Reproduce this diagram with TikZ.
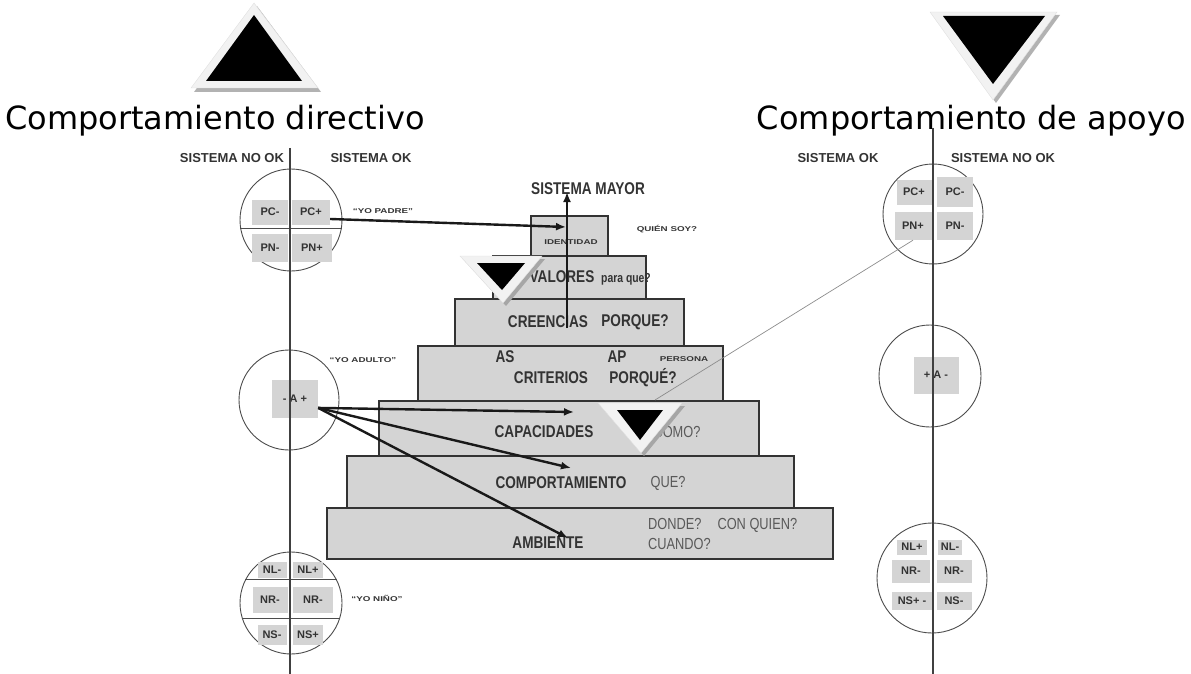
\documentclass[tikz,border=0pt]{standalone}
\usepackage{fontspec}
\setmainfont{Liberation Sans}
\newfontfamily\titulo{DejaVu Sans}
\newfontfamily\estrecha{Liberation Sans}[FakeStretch=0.8]
\newfontfamily\ancha{Liberation Sans}[FakeStretch=1.4]
\usetikzlibrary{arrows.meta}

\begin{document}
\begin{tikzpicture}[x=1pt, y=-1pt,
  nivel/.style={draw=black!80, line width=1.8pt, fill=black!17, inner sep=0pt, anchor=north west},
  celda/.style={fill=black!17, inner sep=0pt, font=\bfseries\fontsize{11}{11}\selectfont, text=black!80},
  aro/.style={draw=black!70, line width=0.9pt, circle, inner sep=0pt},
  eje/.style={draw=black!75, line width=1.4pt},
  etiq/.style={font=\estrecha\bfseries\fontsize{17}{17}\selectfont, text=black!80, inner sep=0pt},
  pregunta/.style={font=\estrecha\fontsize{16}{16}\selectfont, text=black!65, inner sep=0pt},
  mini/.style={font=\ancha\bfseries\fontsize{7}{7}\selectfont, text=black!80, inner sep=0pt},
  sistema/.style={font=\bfseries\fontsize{13}{13}\selectfont, text=black!80, inner sep=0pt},
  flecha/.style={draw=black!90, line width=2.4pt, -{Latex[length=10pt,width=8pt]}},
  titular/.style={font=\titulo\fontsize{32}{32}\selectfont, inner sep=0pt}
]
\useasboundingbox (0,0) rectangle (1191,674);

% titulos y triangulos de arriba
\node[titular, anchor=base west] (tdirectivo) at (5,130) {Comportamiento directivo};
\node[titular, anchor=base east] (tapoyo) at (1186,130) {Comportamiento de apoyo};
\fill[black!30] (257,6) -- (321,92) -- (194,92) -- cycle;
\filldraw[fill=black!5, draw=black!12] (254,3) -- (318,88) -- (191,88) -- cycle;
\fill[black] (254,15) -- (302,81) -- (206,81) -- cycle;
\fill[black!30] (933,15) -- (1060,15) -- (996,103) -- cycle;
\filldraw[fill=black!5, draw=black!12] (930,12) -- (1057,12) -- (993,100) -- cycle;
\fill[black] (943,16) -- (1045,16) -- (993,84) -- cycle;

% lado izquierdo
\node[sistema] (noizq) at (232,158) {SISTEMA NO OK};
\node[sistema] (okizq) at (371,158) {SISTEMA OK};
\node[aro, minimum size=102] (padre) at (291,220) {};
\node[aro, minimum size=100] (adulto) at (289,400) {};
\node[aro, minimum size=102] (nino) at (291,603) {};
\node[celda, minimum width=36, minimum height=25] (pcmenos) at (270,212) {PC-};
\node[celda, minimum width=38, minimum height=25] (pcmas) at (311,212) {PC+};
\node[celda, minimum width=36, minimum height=28] (pnmenos) at (270,248) {PN-};
\node[celda, minimum width=40, minimum height=28] (pnmas) at (312,248) {PN+};
\draw[black!70, line width=0.9pt] (padre.190) -- (padre.350);
\node[celda, minimum width=46, minimum height=38] (adultobox) at (295,399) {- A +};
\node[celda, minimum width=29, minimum height=16] (nlmenos) at (272,570) {NL-};
\node[celda, minimum width=30, minimum height=16] (nlmas) at (308,570) {NL+};
\node[celda, minimum width=35, minimum height=26] (nrmenos) at (270,600) {NR-};
\node[celda, minimum width=40, minimum height=26] (nrmenosb) at (313,600) {NR-};
\node[celda, minimum width=29, minimum height=20] (nsmenos) at (272,635) {NS-};
\node[celda, minimum width=30, minimum height=20] (nsmas) at (308,635) {NS+};
\draw[black!70, line width=0.9pt] (nino.153) -- (nino.27);
\draw[black!70, line width=0.9pt] (nino.197) -- (nino.343);
\coordinate (ejeizqA) at (290,148);
\coordinate (ejeizqB) at (290,674);
\draw[eje] (ejeizqA) -- (ejeizqB);
\node[mini] (yopadre) at (383,211) {“YO PADRE”};
\node[mini] (yoadulto) at (363,360) {“YO ADULTO”};
\node[mini] (yonino) at (377,598) {“YO NIÑO”};

% lado derecho
\node[sistema] (okder) at (838,158) {SISTEMA OK};
\node[sistema] (noder) at (1003,158) {SISTEMA NO OK};
\node[aro, minimum size=100] (padreder) at (933,214) {};
\node[aro, minimum size=102] (adultoder) at (930,376) {};
\node[aro, minimum size=110] (ninoder) at (932,578) {};
\node[celda, minimum width=35, minimum height=25] (pcmasD) at (914,192) {PC+};
\node[celda, minimum width=36, minimum height=30] (pcmenosD) at (955,192) {PC-};
\node[celda, minimum width=37, minimum height=28] (pnmasD) at (913,226) {PN+};
\node[celda, minimum width=36, minimum height=28] (pnmenosD) at (955,226) {PN-};
\node[celda, minimum width=45, minimum height=37] (adultoboxD) at (936,375) {+ A -};
\node[celda, minimum width=30, minimum height=15] (nlmasD) at (912,547) {NL+};
\node[celda, minimum width=24, minimum height=15] (nlmenosD) at (950,547) {NL-};
\node[celda, minimum width=38, minimum height=23] (nrmenosD) at (911,571) {NR-};
\node[celda, minimum width=35, minimum height=23] (nrmenosDb) at (954,571) {NR-};
\node[celda, minimum width=40, minimum height=18] (nsmasD) at (912,601) {NS+ -};
\node[celda, minimum width=35, minimum height=18] (nsmenosD) at (954,601) {NS-};
\coordinate (ejederA) at (933,128);
\coordinate (ejederB) at (933,674);
\draw[eje] (ejederA) -- (ejederB);

% piramide
\node[nivel, minimum width=506, minimum height=51] (ambiente) at (326,507) {};
\node[nivel, minimum width=447, minimum height=52] (comportamiento) at (346,455) {};
\node[nivel, minimum width=380, minimum height=55] (capacidades) at (378,400) {};
\node[nivel, minimum width=305, minimum height=55] (criterios) at (417,345) {};
\node[nivel, minimum width=229, minimum height=47] (creencias) at (454,298) {};
\node[nivel, minimum width=153, minimum height=43] (valores) at (492,255) {};
\node[nivel, minimum width=77, minimum height=40] (identidad) at (530,215) {};

\node[etiq] (tmayor) at (588,189) {SISTEMA MAYOR};
\node[mini] (tidentidad) at (571,242) {IDENTIDAD};
\node[mini] (tquien) at (667,229) {QUIÉN SOY?};
\node[etiq] (tvalores) at (562,277) {VALORES};
\node[etiq, font=\estrecha\bfseries\fontsize{13}{13}\selectfont] (tpara) at (626,279) {para que?};
\node[etiq] (tcreencias) at (548,322) {CREENCIAS};
\node[etiq] (tporque) at (635,322) {PORQUE?};
\node[etiq] (tas) at (505,357) {AS};
\node[etiq] (tap) at (617,357) {AP};
\node[mini] (tpersona) at (684,359) {PERSONA};
\node[etiq] (tcriterios) at (551,378) {CRITERIOS};
\node[etiq] (tporqueb) at (643,378) {PORQUÉ?};
\node[etiq] (tcapacidades) at (544,432) {CAPACIDADES};
\node[pregunta] (tcomo) at (677,432) {COMO?};
\node[etiq] (tcomportamiento) at (561,483) {COMPORTAMIENTO};
\node[pregunta] (tque) at (668,483) {QUE?};
\node[etiq] (tambiente) at (548,543) {AMBIENTE};
\node[pregunta, anchor=west] (tdonde) at (648,525) {DONDE?\quad CON QUIEN?};
\node[pregunta, anchor=west] (tcuando) at (648,544) {CUANDO?};

% flechas
\coordinate (iniciovert) at (567,328);
\coordinate (finmayor) at (567,192);
\coordinate (finiden) at (566,227);
\coordinate (fincap) at (574,412);
\coordinate (fincomp) at (571,468);
\coordinate (finamb) at (568,538);
\coordinate (finlinea) at (655,400);
\draw[flecha] (iniciovert) -- (finmayor);
\draw[flecha] (pcmas.-20) -- (finiden);
\draw[flecha] (adultobox.-21) -- (fincap);
\draw[flecha] (adultobox.-21) -- (fincomp);
\draw[flecha] (adultobox.-21) -- (finamb);
\draw[black!45, line width=0.7pt] (pnmasD.south) -- (finlinea);

% triangulos de la piramide
\fill[black!35] (463,259) -- (545,259) -- (506,306) -- cycle;
\filldraw[fill=black!5, draw=black!12] (460,256) -- (542,256) -- (503,303) -- cycle;
\fill[black] (477,263) -- (525,263) -- (502,290) -- cycle;
\fill[black!35] (601,406) -- (685,406) -- (644,456) -- cycle;
\filldraw[fill=black!5, draw=black!12] (598,403) -- (682,403) -- (641,453) -- cycle;
\fill[black] (617,410) -- (663,410) -- (640,440) -- cycle;
\end{tikzpicture}
\end{document}
